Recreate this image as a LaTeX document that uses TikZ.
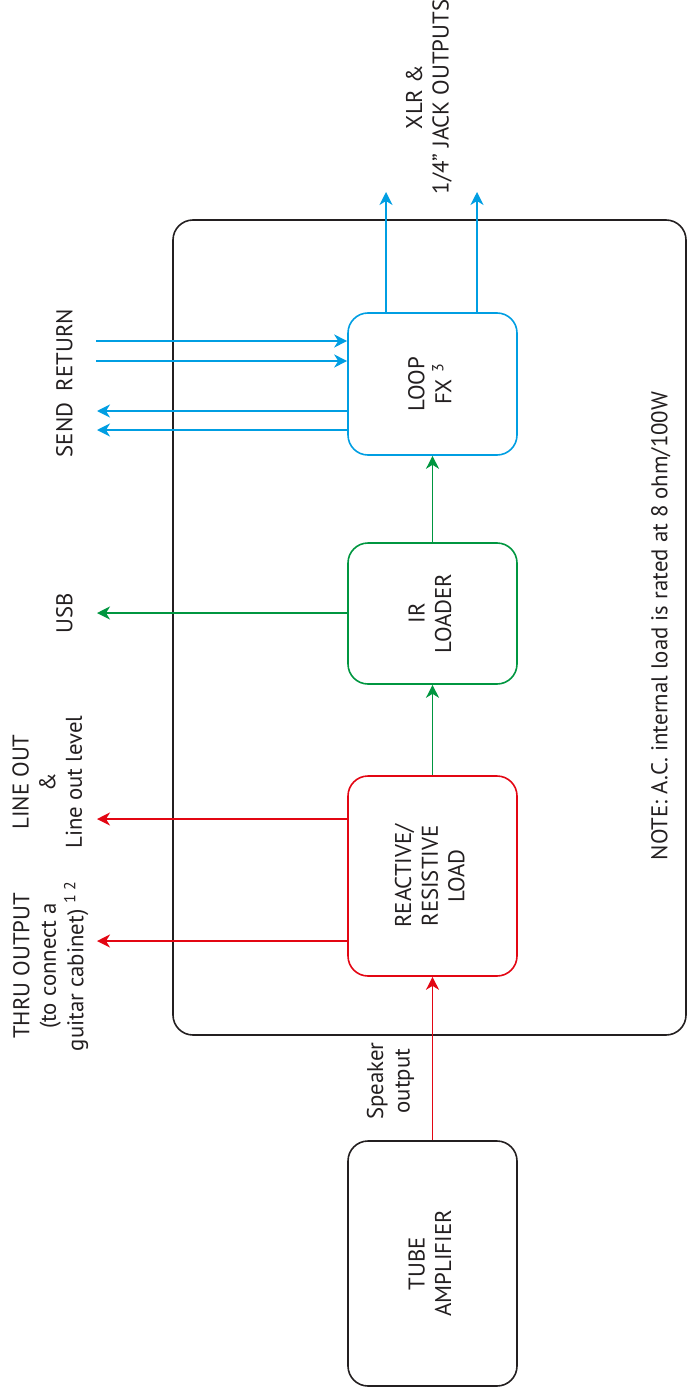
\documentclass[tikz,border=0pt]{standalone}
\usepackage{fontspec}
\setmainfont{PT Sans}
\usepackage{graphicx}
\usetikzlibrary{arrows.meta}

\definecolor{fxblue}{RGB}{0,158,226}
\definecolor{irgreen}{RGB}{0,150,64}
\definecolor{loadred}{RGB}{227,6,19}
\definecolor{boxblack}{RGB}{35,31,32}

% text turned to read upwards
\newcommand{\vtext}[1]{\rotatebox{90}{\begin{tabular}{@{}c@{}}#1\end{tabular}}}

\tikzset{
  block/.style={draw, rounded corners=10pt, line width=0.8pt, minimum width=84.5pt, inner sep=0pt},
  flow/.style={line width=0.8pt, -{Stealth[length=6.5pt,width=6.5pt,inset=2pt]}},
}

\begin{document}
\begin{tikzpicture}[x=0.5pt, y=-0.5pt, font=\fontsize{11.4}{13.3}\selectfont, text=boxblack]
        \useasboundingbox (0,0) rectangle (687,1391);
        % the unit
        \node[draw=boxblack, rounded corners=10pt, line width=0.8pt, minimum width=256.5pt, minimum height=407.5pt, inner sep=0pt] (unit) at (429.5,627.5) {};
        % blocks
        \node[block, draw=fxblue, minimum height=71pt] (loop) at (432.5,384) {\vtext{LOOP\\FX \textsuperscript{3}}};
        \node[block, draw=irgreen, minimum height=70.5pt] (ir) at (432.5,613.5) {\vtext{IR\\LOADER}};
        \node[block, draw=loadred, minimum height=100pt] (load) at (432.5,876) {\vtext{REACTIVE/\\RESISTIVE\\LOAD}};
        \node[block, draw=boxblack, minimum height=122.5pt] (amp) at (432.5,1263.5) {\vtext{TUBE\\AMPLIFIER}};
        % labels
        \node (xlrlabel) at (430,97) {\vtext{XLR \&\\1/4” JACK OUTPUTS}};
        \node (sendlabel) at (67,430) {\vtext{SEND}};
        \node (returnlabel) at (67,350) {\vtext{RETURN}};
        \node (usblabel) at (67,613) {\vtext{USB}};
        \node (linelabel) at (50,782) {\vtext{LINE OUT\\\&\\Line out level}};
        \node (thrulabel) at (51,966) {\vtext{THRU OUTPUT\\(to connect a\\guitar cabinet) \textsuperscript{1 2}}};
        \node (spklabel) at (391,1081) {\vtext{Speaker\\output}};
        \node (note) at (662,626) {\vtext{NOTE: A.C. internal load is rated at 8 ohm/100W}};
        % free ends
        \coordinate (xlr1) at (386,192);
        \coordinate (xlr2) at (477,192);
        \coordinate (ret1) at (96,341);
        \coordinate (ret2) at (96,361);
        \coordinate (send1) at (97,411);
        \coordinate (send2) at (97,430);
        \coordinate (usb) at (97,613);
        \coordinate (lineout) at (97,819);
        \coordinate (thru) at (97,941);

        % Now the connectors
        \draw[flow, loadred] (amp.north) -- (load.south);
        \draw[flow, loadred] (lineout -| load.west) -- (lineout);
        \draw[flow, loadred] (thru -| load.west) -- (thru);
        \draw[flow, irgreen] (load.north) -- (ir.south);
        \draw[flow, irgreen] (ir.north) -- (loop.south);
        \draw[flow, irgreen] (usb -| ir.west) -- (usb);
        \draw[flow, fxblue] (ret1) -- (ret1 -| loop.west);
        \draw[flow, fxblue] (ret2) -- (ret2 -| loop.west);
        \draw[flow, fxblue] (send1 -| loop.west) -- (send1);
        \draw[flow, fxblue] (send2 -| loop.west) -- (send2);
        \draw[flow, fxblue] (xlr1 |- loop.north) -- (xlr1);
        \draw[flow, fxblue] (xlr2 |- loop.north) -- (xlr2);
\end{tikzpicture}
\end{document}
